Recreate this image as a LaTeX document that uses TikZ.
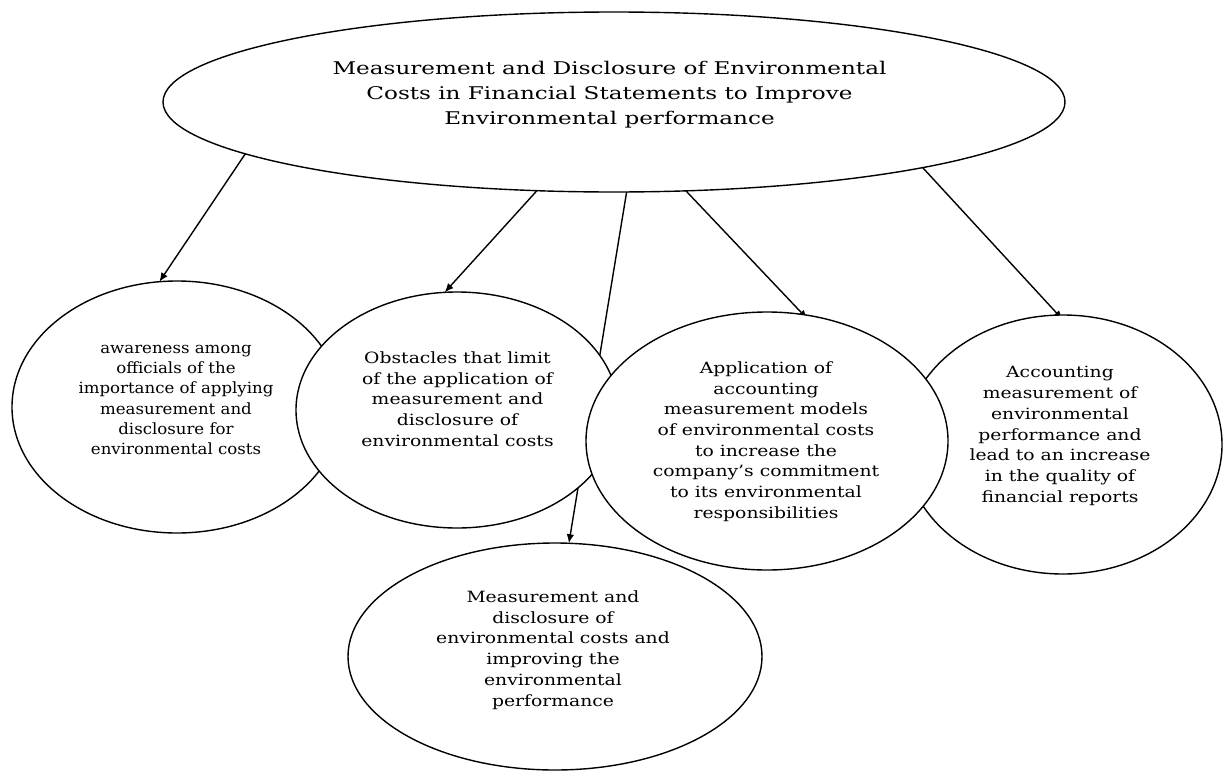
\documentclass[tikz,border=0pt]{standalone}
\usepackage{fontspec}
\setmainfont{DejaVu Serif}
\newfontfamily\topserif[FakeStretch=1.32,Ligatures=TeX]{DejaVu Serif}
\newfontfamily\wideserif[FakeStretch=1.21,Ligatures=TeX]{DejaVu Serif}
\newfontfamily\narrowserif[FakeStretch=1.07,Ligatures=TeX]{DejaVu Serif}
\usetikzlibrary{shapes.geometric,arrows.meta}
\pgfdeclarelayer{background}
\pgfsetlayers{background,main}
\tikzset{
  bubble/.style={ellipse,draw,fill=white,line width=1.4pt,inner sep=0pt,outer sep=0pt},
  toptext/.style={align=center,inner sep=0pt,font=\topserif\fontsize{17.5}{25}\selectfont},
  ctext/.style={align=center,inner sep=0pt,font=\wideserif\fontsize{15.5}{20.7}\selectfont},
  ntext/.style={align=center,inner sep=0pt,font=\narrowserif\fontsize{15.5}{20.1}\selectfont},
  link/.style={line width=1.4pt,-{Latex[length=9pt,width=7.5pt]}}
}
\begin{document}
\begin{tikzpicture}[x=1pt,y=-1pt]
\useasboundingbox (0,0) rectangle (1230,771);
\begin{pgfonlayer}{background}
\fill[white] (0,0) rectangle (1230,771);
\end{pgfonlayer}
\node[bubble,minimum width=902pt,minimum height=180pt] (top) at (614,102) {};
\node[bubble,minimum width=330pt,minimum height=252pt] (c1) at (177,407) {};
\node[bubble,minimum width=322pt,minimum height=236pt] (c2) at (457,410) {};
\node[bubble,minimum width=318pt,minimum height=259pt] (c4) at (1063,444.5) {};
\node[bubble,minimum width=362pt,minimum height=258pt] (c3) at (767,441) {};
\node[bubble,minimum width=414pt,minimum height=227pt] (c5) at (555,656.5) {};
\node[toptext] (ttop) at (609.5,95) {Measurement and Disclosure of Environmental\\Costs in Financial Statements to Improve\\Environmental performance};
\node[ntext] (t1) at (176,400) {awareness among\\officials of the\\importance of applying\\measurement and\\disclosure for\\environmental costs};
\node[ctext] (t2) at (457.5,399) {Obstacles that limit\\of the application of\\measurement and\\disclosure of\\environmental costs};
\node[ctext] (t3) at (766,441.5) {Application of\\accounting\\measurement models\\of environmental costs\\to increase the\\company’s commitment\\to its environmental\\responsibilities};
\node[ctext] (t4) at (1060,436) {Accounting\\measurement of\\environmental\\performance and\\lead to an increase\\in the quality of\\financial reports};
\node[ctext] (t5) at (553,650) {Measurement and\\disclosure of\\environmental costs and\\improving the\\environmental\\performance};
\begin{pgfonlayer}{background}
\draw[link] (top.188.7) -- (c1.98.4);
\draw[link] (top.229.2) -- (c2.96.5);
\draw[link] (top.278.7) -- (c5.83.8);
\draw[link,shorten >=-6pt] (top.309) -- (c3.74.8);
\draw[link,shorten >=-6pt] (top.348.1) -- (c4.92.2);
\end{pgfonlayer}
\end{tikzpicture}
\end{document}
